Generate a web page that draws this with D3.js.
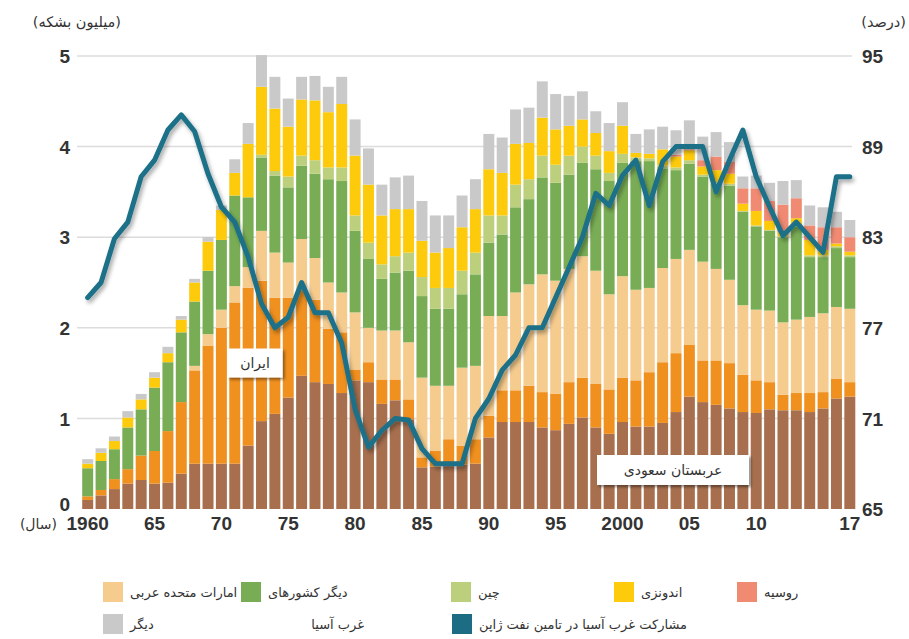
<!DOCTYPE html>
<html>
<head>
<meta charset="utf-8">
<script src="https://cdn.jsdelivr.net/npm/d3@7"></script>
<style>
  body { margin: 0; background: #fff; }
  svg { display: block; }
  .tick-num { font-family: "Liberation Sans", Arial, sans-serif; font-weight: bold; font-size: 19px; fill: #333; }
  .fa { font-family: "DejaVu Sans", sans-serif; font-size: 13px; fill: #333; }
</style>
</head>
<body>
<svg id="chart" width="909" height="639"></svg>
<script>
// years 1960-2017
var years = d3.range(1960, 2018);

// million barrels per day, per source
var saudi = [0.10,0.15,0.22,0.28,0.32,0.28,0.29,0.39,0.50,0.50, 0.50,0.50,0.70,0.97,1.05,1.23,1.47,1.40,1.38,1.28,
  1.42,1.40,1.16,1.20,0.99,0.46,0.47,0.51,0.49,0.50, 0.79,0.96,0.96,0.96,0.90,0.87,0.94,1.01,0.90,0.83,
  0.96,0.91,0.91,0.95,1.07,1.24,1.18,1.15,1.11,1.07, 1.06,1.10,1.09,1.09,1.07,1.11,1.22,1.24];
var iran = [0.04,0.06,0.11,0.16,0.27,0.36,0.57,0.79,1.03,1.30, 1.50,1.78,1.74,1.55,1.28,1.10,0.95,0.91,0.61,0.67,
  0.12,0.22,0.27,0.23,0.22,0.11,0.17,0.26,0.21,0.27, 0.24,0.35,0.35,0.40,0.39,0.40,0.46,0.44,0.48,0.49,
  0.49,0.51,0.60,0.67,0.65,0.57,0.46,0.49,0.50,0.41, 0.36,0.30,0.17,0.19,0.21,0.18,0.22,0.16];
var uae = [0,0,0,0,0,0,0,0,0.05,0.13, 0.20,0.18,0.23,0.55,0.50,0.39,0.56,0.46,0.51,0.44,
  0.63,0.38,0.54,0.54,0.63,0.88,0.72,0.59,0.86,0.81, 1.10,0.82,1.08,1.12,1.30,1.25,1.25,1.34,1.25,1.05,
  1.12,1.00,0.93,1.04,1.04,1.05,1.09,1.01,0.92,0.77, 0.78,0.79,0.80,0.81,0.84,0.87,0.79,0.81];
var otherWestAsia = [0.31,0.32,0.33,0.46,0.51,0.70,0.76,0.77,0.71,0.70, 0.77,1.00,0.77,0.81,0.85,0.83,0.81,0.93,1.14,1.23,
  0.90,0.76,0.57,0.64,0.79,0.90,0.85,0.85,0.81,1.01, 0.81,0.90,0.94,0.94,1.07,1.08,1.04,1.03,1.12,1.25,
  1.25,1.42,1.40,1.10,0.98,0.95,0.94,0.94,1.04,1.03, 0.92,0.88,0.94,1.03,0.66,0.62,0.65,0.57];
var china = [0,0,0,0,0,0,0,0,0,0, 0,0,0,0.03,0.05,0.12,0.11,0.15,0.13,0.15,
  0.17,0.18,0.16,0.18,0.20,0.21,0.23,0.23,0.26,0.24, 0.30,0.21,0.25,0.22,0.24,0.20,0.21,0.18,0.15,0.09,
  0.10,0.04,0.03,0.03,0.03,0.04,0.02,0.02,0.02,0.01, 0.01,0.01,0.01,0.01,0.02,0.02,0.02,0.02];
var indonesia = [0.05,0.09,0.09,0.11,0.11,0.11,0.10,0.14,0.21,0.32, 0.33,0.25,0.59,0.75,0.69,0.55,0.62,0.66,0.61,0.70,
  0.66,0.64,0.54,0.52,0.48,0.40,0.39,0.44,0.48,0.48, 0.51,0.47,0.45,0.40,0.42,0.39,0.33,0.30,0.25,0.24,
  0.31,0.05,0.05,0.18,0.12,0.11,0.09,0.13,0.11,0.08, 0.16,0.10,0.05,0.08,0.17,0.06,0.03,0.04];
var russia = [0,0,0,0,0,0,0,0,0,0, 0,0,0,0,0,0,0,0,0,0,
  0,0,0,0,0,0,0,0,0,0, 0,0,0,0,0,0,0,0,0,0,
  0,0,0,0,0.02,0.01,0.07,0.15,0.13,0.17, 0.25,0.22,0.30,0.22,0.16,0.25,0.18,0.16];
var others = [0.05,0.05,0.05,0.07,0.06,0.06,0.07,0.04,0.04,0.05, 0.05,0.15,0.23,0.35,0.35,0.31,0.25,0.27,0.28,0.30,
  0.40,0.40,0.34,0.35,0.37,0.44,0.41,0.36,0.35,0.33, 0.39,0.39,0.38,0.39,0.40,0.39,0.33,0.31,0.24,0.31,
  0.26,0.21,0.27,0.25,0.27,0.32,0.26,0.27,0.22,0.13, 0.14,0.20,0.26,0.20,0.22,0.22,0.17,0.19];

// West Asia share of Japan's crude supply, percent
var share = [79.0,80.0,82.9,84.0,87.0,88.1,90.1,91.1,90.0,87.2, 85.0,84.0,81.7,78.6,77.0,77.7,80.0,78.0,78.0,76.0,
  71.6,69.1,70.2,71.0,70.9,69.0,68.0,68.0,68.0,71.0, 72.3,74.2,75.2,77.0,77.0,79.0,81.0,83.0,85.9,85.1,
  87.1,88.1,85.1,88.0,89.0,89.0,89.0,86.0,88.1,90.1, 87.0,85.0,83.1,84.0,83.0,82.0,87.0,87.0];

var leftTicks = [0, 1, 2, 3, 4, 5];
var rightTicks = [65, 71, 77, 83, 89, 95];
var xTickYears = [1960, 1965, 1970, 1975, 1980, 1985, 1990, 1995, 2000, 2005, 2010, 2017];
var xTickLabels = ["1960", "65", "70", "75", "80", "85", "90", "95", "2000", "05", "10", "17"];

var seriesKeys = ["saudi", "iran", "uae", "otherWestAsia", "china", "indonesia", "russia", "others"];
var seriesColors = ["#a76f4e", "#f0901f", "#f6cc8e", "#79ad55", "#bccf7d", "#fdcb0b", "#f08a72", "#c9c9c9"];
var seriesData = [saudi, iran, uae, otherWestAsia, china, indonesia, russia, others];

var rows = years.map(function(y, i) {
  var r = { year: y };
  seriesKeys.forEach(function(k, j) { r[k] = seriesData[j][i]; });
  return r;
});

var svg = d3.select("#chart");

var defs = svg.append("defs");
defs.append("filter").attr("id", "shadow").attr("x", "-20%").attr("y", "-20%").attr("width", "140%").attr("height", "160%")
  .append("feDropShadow").attr("dx", 2).attr("dy", 3).attr("stdDeviation", 2).attr("flood-color", "#000").attr("flood-opacity", 0.35);
defs.append("filter").attr("id", "boxshadow").attr("x", "-20%").attr("y", "-30%").attr("width", "140%").attr("height", "170%")
  .append("feDropShadow").attr("dx", 2).attr("dy", 2).attr("stdDeviation", 1.5).attr("flood-color", "#000").attr("flood-opacity", 0.45);

var x = d3.scaleBand().domain(years).range([81, 856.5]).paddingInner(0.18).paddingOuter(0.09);
var y = d3.scaleLinear().domain([0, 5]).range([509, 56]);
var y2 = d3.scaleLinear().domain([65, 95]).range([509, 56]);

// grid
svg.append("g").selectAll("line").data(leftTicks.slice(1)).join("line")
  .attr("x1", 77).attr("x2", 852)
  .attr("y1", function(d) { return y(d); }).attr("y2", function(d) { return y(d); })
  .attr("stroke", "#dcdcdc").attr("stroke-width", 1.5);

// stacked bars
var stack = d3.stack().keys(seriesKeys)(rows);
svg.append("g").selectAll("g").data(stack).join("g")
  .attr("fill", function(d, i) { return seriesColors[i]; })
  .selectAll("rect").data(function(d) { return d; }).join("rect")
    .attr("x", function(d) { return x(d.data.year); })
    .attr("width", x.bandwidth())
    .attr("y", function(d) { return y(d[1]); })
    .attr("height", function(d) { return y(d[0]) - y(d[1]); });

// share line
var line = d3.line()
  .x(function(d, i) { return x(years[i]) + x.bandwidth() / 2; })
  .y(function(d) { return y2(d); });
svg.append("path").datum(share)
  .attr("fill", "none")
  .attr("stroke", "#1c7088")
  .attr("stroke-width", 5)
  .attr("stroke-linejoin", "round")
  .attr("stroke-linecap", "round")
  .attr("filter", "url(#shadow)")
  .attr("d", line);

// left axis
var yAxis = d3.axisLeft(y).tickValues(leftTicks).tickFormat(d3.format("d")).tickSize(0).tickPadding(0);
var gl = svg.append("g").attr("transform", "translate(70,0)").call(yAxis);
gl.select(".domain").remove();
gl.attr("font-size", null).attr("font-family", null);
gl.selectAll("text").attr("class", "tick-num").attr("dy", "0.35em");
gl.selectAll(".tick").filter(function(d) { return d === 0; }).select("text").attr("dy", "0.1em");

// right axis
var yAxisR = d3.axisRight(y2).tickValues(rightTicks).tickSize(0).tickPadding(0);
var gr = svg.append("g").attr("transform", "translate(862,0)").call(yAxisR);
gr.select(".domain").remove();
gr.attr("font-size", null).attr("font-family", null);
gr.selectAll("text").attr("class", "tick-num").attr("dy", "0.35em");

// x axis labels
var xAxis = d3.axisBottom(x).tickValues(xTickYears).tickSize(0).tickPadding(0)
  .tickFormat(function(d) { return xTickLabels[xTickYears.indexOf(d)]; });
var gx = svg.append("g").attr("transform", "translate(0,516)").call(xAxis);
gx.select(".domain").remove();
gx.attr("font-size", null).attr("font-family", null);
gx.selectAll("text").attr("class", "tick-num").attr("dy", "0.71em");

// unit labels
svg.append("text").attr("class", "fa").attr("x", 121).attr("y", 27).attr("text-anchor", "end")
  .style("font-size", "14.5px").text("(میلیون بشکه)");
svg.append("text").attr("class", "fa").attr("x", 906).attr("y", 27).attr("text-anchor", "end")
  .style("font-size", "14.5px").text("(درصد)");
svg.append("text").attr("class", "fa").attr("x", 57).attr("y", 529).attr("text-anchor", "end")
  .style("font-size", "14px").text("(سال)");

// callout boxes
function callout(cx, cy, w, h, label) {
  var g = svg.append("g");
  g.append("rect").attr("x", cx - w / 2).attr("y", cy - h / 2).attr("width", w).attr("height", h)
    .attr("fill", "#fff").attr("filter", "url(#boxshadow)");
  g.append("text").attr("class", "fa").attr("x", cx).attr("y", cy).attr("dy", "0.35em")
    .attr("text-anchor", "middle").style("font-size", "14px").text(label);
}
callout(255, 363, 55, 29, "ایران");
callout(673, 470, 152, 30, "عربستان سعودی");

// legend
var legendItems = [
  { color: seriesColors[2], label: "امارات متحده عربی", sx: 103, row: 0 },
  { color: seriesColors[3], label: "دیگر کشورهای", sx: 241, row: 0 },
  { color: seriesColors[4], label: "چین", sx: 451, row: 0 },
  { color: seriesColors[5], label: "اندونزی", sx: 614, row: 0 },
  { color: seriesColors[6], label: "روسیه", sx: 737, row: 0 },
  { color: seriesColors[7], label: "دیگر", sx: 103, row: 1 },
  { color: "#1c6d84", label: "مشارکت غرب آسیا در تامین نفت ژاپن", sx: 452, row: 1 }
];
var rowY = [592, 624];
var lg = svg.append("g");
var li = lg.selectAll("g").data(legendItems).join("g");
li.append("rect")
  .attr("x", function(d) { return d.sx; })
  .attr("y", function(d) { return rowY[d.row] - 10; })
  .attr("width", 20).attr("height", 20)
  .attr("fill", function(d) { return d.color; });
li.append("text").attr("class", "fa")
  .attr("x", function(d) { return d.sx + 27; })
  .attr("y", function(d) { return rowY[d.row]; })
  .attr("dy", "0.35em")
  .text(function(d) { return d.label; });
lg.append("text").attr("class", "fa").attr("x", 364).attr("y", rowY[1]).attr("dy", "0.35em")
  .attr("text-anchor", "end").text("غرب آسیا");
</script>
</body>
</html>
